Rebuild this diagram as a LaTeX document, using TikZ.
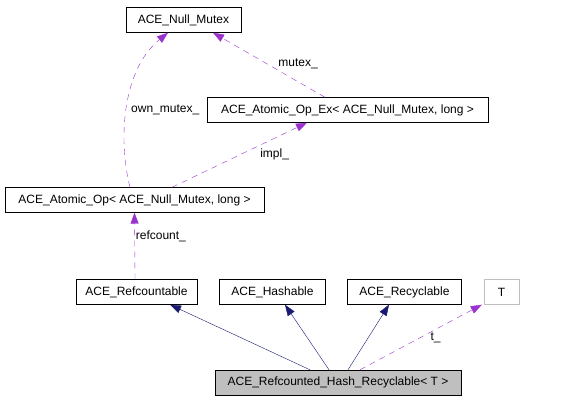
\documentclass[tikz,border=0pt]{standalone}
\usepackage{fontspec}
\setmainfont{Liberation Sans}
\usetikzlibrary{arrows.meta}
\definecolor{relpurple}{HTML}{9A32CD}
\definecolor{inhnavy}{HTML}{191970}
\definecolor{boxgray}{HTML}{BFBFBF}
\begin{document}
\begin{tikzpicture}
[x=1pt,y=1pt,
  classdecorate/.style={shape=rectangle,draw,inner sep=0pt,minimum height=25pt,
    font=\fontsize{12}{14}\selectfont},%
  labeldecorate/.style={inner sep=1pt,text=black,font=\fontsize{12}{14}\selectfont},%
  usedecorate/.style={-{Triangle[length=11pt,width=8pt]},relpurple,dashed,
    dash pattern=on 6pt off 5pt},%
  inheritdecorate/.style={-{Triangle[length=11pt,width=8pt]},inhnavy}]
\useasboundingbox (0,0) rectangle (565,400);
%% nodes or classes
\foreach \nodename/\x/\y/\w/\txt in {
  nm/183.5/380/115/{ACE\_Null\_Mutex},
  aoe/347.5/290/281/{ACE\_Atomic\_Op\_Ex< ACE\_Null\_Mutex, long >},
  ao/134.5/200/259/{ACE\_Atomic\_Op< ACE\_Null\_Mutex, long >},
  rc/136.5/108/121/{ACE\_Refcountable},
  hs/272.5/108/106/{ACE\_Hashable},
  ry/404.5/108/114/{ACE\_Recyclable}} {
  \node (\nodename) at (\x,\y) [classdecorate,minimum width=\w pt] {\txt};
}
\node (t) at (501.5,108) [classdecorate,draw=boxgray,minimum width=35pt] {T};
\node (main) at (338,17.5) [classdecorate,fill=boxgray,minimum width=246pt]
  {ACE\_Refcounted\_Hash\_Recyclable< T >};
%% inheritance
\path
\foreach \startshift/\endnode/\endshift in {-28/rc/33.5, -9/hs/12.5, 10/ry/-15.5} {
  ([xshift=\startshift pt]main.north) edge[inheritdecorate] ([xshift=\endshift pt]\endnode.south)
};
%% members
\path
  ([xshift=22pt]main.north) edge[usedecorate]
    node[labeldecorate,pos=.62,shift={(0,-8)}] {t\_} ([xshift=-2pt]t.south west)
  ([xshift=-1.5pt]rc.north) edge[usedecorate]
    node[labeldecorate,pos=.65,anchor=west] {refcount\_} (ao.south)
  ([xshift=37.5pt]ao.north) edge[usedecorate]
    node[labeldecorate,pos=.76,shift={(0,-16.5)}] {impl\_} ([xshift=-40.5pt]aoe.south)
  ([xshift=-22.5pt]aoe.north) edge[usedecorate]
    node[labeldecorate,pos=.24,shift={(0,17.5)}] {mutex\_} ([xshift=29.5pt]nm.south);
\draw[usedecorate] ([xshift=-4.5pt]ao.north) .. controls (118,260) and (122,330) ..
  ([xshift=-15.5pt]nm.south)
  node[labeldecorate,pos=.5,shift={(38,-4)}] {own\_mutex\_};
\end{tikzpicture}
\end{document}
